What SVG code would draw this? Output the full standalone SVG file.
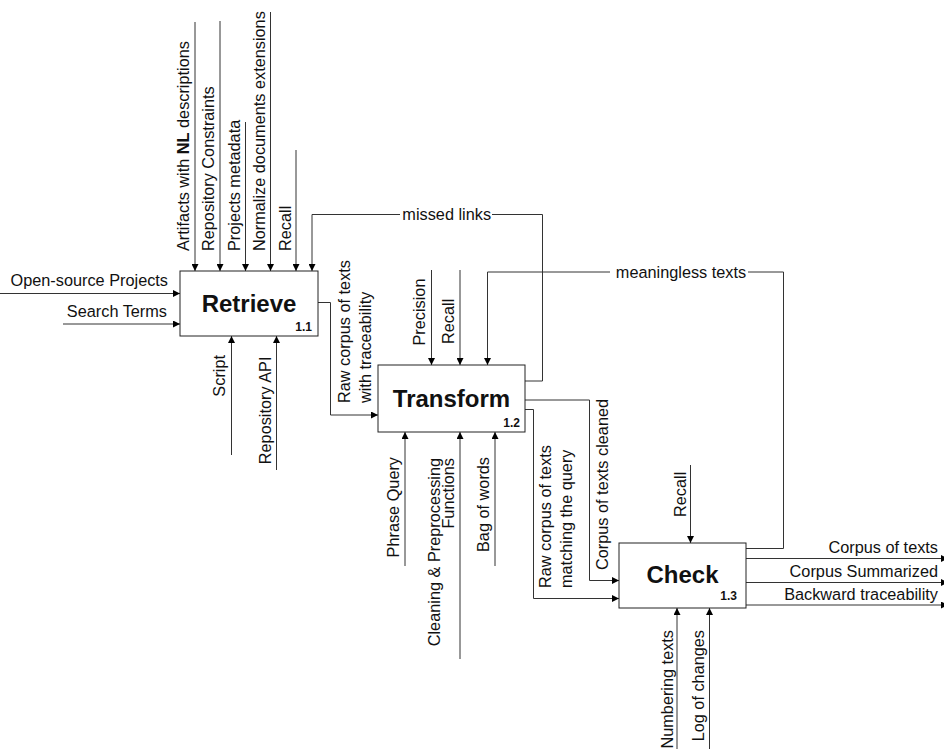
<svg xmlns="http://www.w3.org/2000/svg" width="944" height="749" viewBox="0 0 944 749">
  <style>
    .box { fill: #ffffff; stroke: #222222; stroke-width: 1; }
    .ln { fill: none; stroke: #333333; stroke-width: 1; }
    .arr { marker-end: url(#arrow); }
    text { font-family: "Liberation Sans", Arial, sans-serif; fill: #111111; }
    .lbl { font-size: 16.3px; }
    .end { text-anchor: end; }
    .mid { text-anchor: middle; }
    .title { font-size: 24px; font-weight: bold; text-anchor: middle; }
    .num { font-size: 12px; font-weight: bold; text-anchor: end; }
    .bg { fill: #ffffff; stroke: none; }
  </style>
  <defs>
    <marker id="arrow" viewBox="0 0 8 8" refX="8" refY="4" markerWidth="7" markerHeight="7" markerUnits="userSpaceOnUse" orient="auto">
      <path d="M0,0 L8,4 L0,8 Z" fill="#000000"/>
    </marker>
  </defs>
  <rect width="944" height="749" fill="#ffffff"/>

  <!-- connectors -->
  <g id="connectors">
    <!-- inputs to Retrieve -->
    <path class="ln arr" d="M0,293.5 H180"/>
    <path class="ln arr" d="M63,324 H180"/>
    <!-- controls of Retrieve -->
    <path class="ln arr" d="M195,22 V271"/>
    <path class="ln arr" d="M220,21 V271"/>
    <path class="ln arr" d="M245.5,122 V271"/>
    <path class="ln arr" d="M270.5,12 V271"/>
    <path class="ln arr" d="M296,150 V271"/>
    <!-- mechanisms of Retrieve -->
    <path class="ln arr" d="M231.5,455 V336"/>
    <path class="ln arr" d="M276.5,470 V336"/>
    <!-- Retrieve -> Transform -->
    <path class="ln arr" d="M318,302.5 H330.5 V415 H378"/>
    <!-- feedback: missed links -->
    <path class="ln arr" d="M525,381 H542.5 V214.5 H312 V271"/>
    <!-- controls of Transform -->
    <path class="ln arr" d="M431.5,270 V365"/>
    <path class="ln arr" d="M460,270 V365"/>
    <!-- mechanisms of Transform -->
    <path class="ln arr" d="M405,566 V432"/>
    <path class="ln arr" d="M460,659 V432"/>
    <path class="ln arr" d="M495,566 V432"/>
    <!-- Transform -> Check -->
    <path class="ln arr" d="M525,400 H589.5 V580.5 H619"/>
    <path class="ln arr" d="M525,409.5 H533.5 V598.5 H619"/>
    <!-- feedback: meaningless texts -->
    <path class="ln arr" d="M746,548.5 H783.5 V272 H487.5 V365"/>
    <!-- control of Check -->
    <path class="ln arr" d="M690.5,465 V543"/>
    <!-- mechanisms of Check -->
    <path class="ln arr" d="M677,749 V608"/>
    <path class="ln arr" d="M709.5,749 V608"/>
    <!-- outputs of Check -->
    <path class="ln arr" d="M746,558.5 H948"/>
    <path class="ln arr" d="M746,582.5 H948"/>
    <path class="ln arr" d="M746,605 H948"/>

    <!-- connector labels -->
    <text class="lbl end" x="168" y="286">Open-source Projects</text>
    <text class="lbl end" x="167" y="316.7">Search Terms</text>

    <text class="lbl" transform="translate(189,251) rotate(-90)">Artifacts with <tspan font-weight="bold">NL</tspan> descriptions</text>
    <text class="lbl" transform="translate(213.5,251) rotate(-90)">Repository Constraints</text>
    <text class="lbl" transform="translate(239.5,251) rotate(-90)">Projects metadata</text>
    <text class="lbl" transform="translate(265,251) rotate(-90)">Normalize documents extensions</text>
    <text class="lbl" transform="translate(291,251) rotate(-90)">Recall</text>

    <text class="lbl end" transform="translate(225,355) rotate(-90)">Script</text>
    <text class="lbl end" transform="translate(271,356.5) rotate(-90)">Repository API</text>

    <text class="lbl" transform="translate(350,403) rotate(-90)">Raw corpus of texts</text>
    <text class="lbl" transform="translate(371,403) rotate(-90)">with traceability</text>

    <rect class="bg" x="400" y="207" width="92" height="15"/>
    <text class="lbl mid" x="446.7" y="220">missed links</text>

    <text class="lbl" transform="translate(425,345.5) rotate(-90)">Precision</text>
    <text class="lbl" transform="translate(454,344) rotate(-90)">Recall</text>

    <rect class="bg" x="610" y="264" width="138" height="16"/>
    <text class="lbl mid" x="681" y="277.5">meaningless texts</text>

    <text class="lbl end" transform="translate(398.5,457) rotate(-90)">Phrase Query</text>
    <text class="lbl end" transform="translate(440,458) rotate(-90)">Cleaning &amp; Preprocessing</text>
    <text class="lbl end" transform="translate(453.5,458) rotate(-90)">Functions</text>
    <text class="lbl end" transform="translate(489,457) rotate(-90)">Bag of words</text>

    <text class="lbl" transform="translate(551,588) rotate(-90)">Raw corpus of texts</text>
    <text class="lbl" transform="translate(571.5,588) rotate(-90)">matching the query</text>
    <text class="lbl" transform="translate(607.5,570) rotate(-90)">Corpus of texts cleaned</text>

    <text class="lbl" transform="translate(686,517) rotate(-90)">Recall</text>

    <text class="lbl end" transform="translate(672.5,630) rotate(-90)">Numbering texts</text>
    <text class="lbl end" transform="translate(703.5,630) rotate(-90)">Log of changes</text>

    <text class="lbl end" x="938" y="553.3">Corpus of texts</text>
    <text class="lbl end" x="938" y="577.3">Corpus Summarized</text>
    <text class="lbl end" x="938" y="600">Backward traceability</text>
  </g>

  <!-- activity boxes -->
  <g id="retrieve">
    <rect class="box" x="180" y="271" width="138" height="65"/>
    <text class="title" x="249" y="312">Retrieve</text>
    <text class="num" x="312" y="331">1.1</text>
  </g>
  <g id="transform">
    <rect class="box" x="378" y="365" width="147" height="67"/>
    <text class="title" x="451.5" y="407">Transform</text>
    <text class="num" x="520" y="427">1.2</text>
  </g>
  <g id="check">
    <rect class="box" x="619" y="543" width="127" height="65"/>
    <text class="title" x="682.5" y="583">Check</text>
    <text class="num" x="737" y="600">1.3</text>
  </g>
</svg>
